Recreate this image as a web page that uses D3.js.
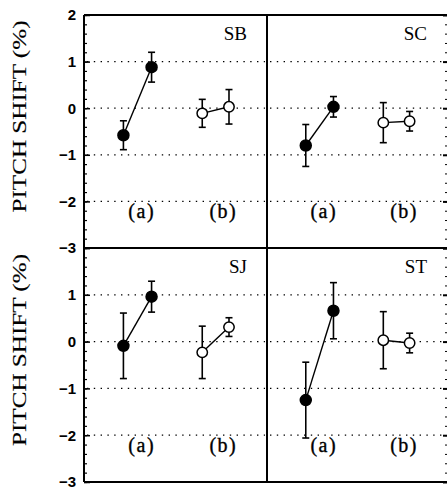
<!DOCTYPE html>
<html><head><meta charset="utf-8">
<script src="https://cdn.jsdelivr.net/npm/d3@7"></script>
<style>body{margin:0;background:#fff}svg{display:block}</style>
</head><body>
<script>
// Data
const subjects = ["SB", "SC", "SJ", "ST"];
const conditions = ["(a)", "(a)", "(b)", "(b)"];
const groups = ["a", "a", "b", "b"];
const xPos = [1, 2, 3.8, 4.75];
const labelPos = [1.65, 4.55];
const labelText = ["(a)", "(b)"];
const means = {
  SB: [-0.58, 0.88, -0.11, 0.03],
  SC: [-0.80, 0.03, -0.31, -0.28],
  SJ: [-0.09, 0.96, -0.23, 0.31],
  ST: [-1.25, 0.66, 0.03, -0.03]
};
const errs = {
  SB: [0.31, 0.32, 0.30, 0.37],
  SC: [0.45, 0.22, 0.43, 0.21],
  SJ: [0.70, 0.33, 0.56, 0.20],
  ST: [0.81, 0.60, 0.61, 0.21]
};
const yTicks = [-3, -2, -1, 0, 1, 2];
const gridVals = [-2, -1, 0, 1];
const yLabel = "PITCH SHIFT (%)";

(function () {
const W = 448, H = 492;
const pLeft = 84, pMid = 267, pRight = 447, pTop = 15, pMidY = 248, pBottom = 482;
const svg = d3.select("body").append("svg").attr("width", W).attr("height", H);

const panels = [
  {s: "SB", x0: pLeft, x1: pMid, y0: pTop, y1: pMidY, col: 0, row: 0},
  {s: "SC", x0: pMid, x1: pRight, y0: pTop, y1: pMidY, col: 1, row: 0},
  {s: "SJ", x0: pLeft, x1: pMid, y0: pMidY, y1: pBottom, col: 0, row: 1},
  {s: "ST", x0: pMid, x1: pRight, y0: pMidY, y1: pBottom, col: 1, row: 1}
];

panels.forEach(p => {
  const g = svg.append("g");
  const x = d3.scaleLinear().domain([-0.4, 6.1]).range([p.x0, p.x1]);
  const y = d3.scaleLinear().domain([-3, 2]).range([p.y1, p.y0]);
  g.selectAll("line.grid").data(gridVals).enter().append("line")
    .attr("x1", p.x0 + 3).attr("x2", p.x1 - 2)
    .attr("y1", d => y(d)).attr("y2", d => y(d))
    .attr("stroke", "#000").attr("stroke-width", 1.3)
    .attr("stroke-dasharray", "1.4,5.4");
  if (p.col === 0) {
    const ax = d3.axisRight(y).tickValues(d3.range(-3, 2.01, 0.2)).tickSize(3).tickFormat("");
    const axG = g.append("g").attr("transform", `translate(${p.x0},0)`).call(ax);
    axG.select(".domain").remove();
    axG.selectAll("line").attr("stroke-width", 1.2);
    const axM = d3.axisRight(y).tickValues(yTicks).tickSize(6).tickFormat("");
    const axMG = g.append("g").attr("transform", `translate(${p.x0},0)`).call(axM);
    axMG.select(".domain").remove();
    axMG.selectAll("line").attr("stroke-width", 1.5);
    const lbls = p.row === 0 ? yTicks : yTicks.filter(d => d !== 2);
    g.selectAll("text.tl").data(lbls).enter().append("text")
      .attr("x", p.x0 - 8).attr("y", d => y(d)).attr("dy", "0.36em")
      .attr("text-anchor", "end")
      .style("font-family", "'Liberation Sans', Arial, sans-serif")
      .style("font-weight", "bold").style("font-size", "15px")
      .text(d => d < 0 ? "\u2212" + Math.abs(d) : d);
    const cy = (p.y0 + p.y1) / 2 - 15;
    g.append("text")
      .attr("transform", `translate(${26},${cy}) rotate(-90)`)
      .attr("text-anchor", "middle")
      .attr("textLength", 192).attr("lengthAdjust", "spacingAndGlyphs")
      .attr("stroke", "#000").attr("stroke-width", 0.15)
      .style("font-family", "'Liberation Serif', 'Times New Roman', serif")
      .style("font-size", "19px")
      .text(yLabel);
  } else {
    const ax = d3.axisLeft(y).tickValues(d3.range(-3, 2.01, 0.2)).tickSize(2).tickFormat("");
    const axG = g.append("g").attr("transform", `translate(${p.x1},0)`).call(ax);
    axG.select(".domain").remove();
    axG.selectAll("line").attr("stroke-width", 1);
    const axM = d3.axisLeft(y).tickValues(yTicks).tickSize(4).tickFormat("");
    const axMG = g.append("g").attr("transform", `translate(${p.x1},0)`).call(axM);
    axMG.select(".domain").remove();
    axMG.selectAll("line").attr("stroke-width", 2);
  }
  g.append("text").attr("x", p.x1 - 20).attr("y", p.y0 + 25)
    .attr("text-anchor", "end")
    .style("font-family", "'Liberation Serif', 'Times New Roman', serif")
    .style("font-size", "19px").text(p.s);
  g.selectAll("text.cl").data(labelPos).enter().append("text")
    .attr("x", d => x(d)).attr("y", y(-2.2)).attr("dy", "0.36em")
    .attr("text-anchor", "middle")
    .attr("stroke", "#000").attr("stroke-width", 0.35)
    .style("font-family", "'Liberation Serif', serif")
    .style("font-size", "20px")
    .style("letter-spacing", "1.5px")
    .text((d, i) => labelText[i]);
  const m = means[p.s], e = errs[p.s];
  const pts = xPos.map((xv, i) => ({x: xv, y: m[i], e: e[i], g: groups[i]}));
  ["a", "b"].forEach(gr => {
    const ps = pts.filter(d => d.g === gr);
    g.append("path").datum(ps)
      .attr("d", d3.line().x(d => x(d.x)).y(d => y(d.y)))
      .attr("fill", "none").attr("stroke", "#000").attr("stroke-width", 1.4);
  });
  pts.forEach(d => {
    const cx = x(d.x);
    g.append("line").attr("x1", cx).attr("x2", cx)
      .attr("y1", y(d.y - d.e)).attr("y2", y(d.y + d.e))
      .attr("stroke", "#000").attr("stroke-width", 1.6);
    [d.y - d.e, d.y + d.e].forEach(v => {
      g.append("line").attr("x1", cx - 3.5).attr("x2", cx + 3.5)
        .attr("y1", y(v)).attr("y2", y(v))
        .attr("stroke", "#000").attr("stroke-width", 1.6);
    });
  });
  g.selectAll("circle").data(pts).enter().append("circle")
    .attr("cx", d => x(d.x)).attr("cy", d => y(d.y))
    .attr("r", d => d.g === "a" ? 5.5 : 5.2)
    .attr("fill", d => d.g === "a" ? "#000" : "#fff")
    .attr("stroke", "#000").attr("stroke-width", 1.5);
});

const frame = svg.append("g").attr("stroke", "#000").attr("fill", "none");
frame.append("line").attr("x1", pLeft).attr("x2", pRight).attr("y1", pTop).attr("y2", pTop).attr("stroke-width", 2);
frame.append("line").attr("x1", pLeft).attr("x2", pRight).attr("y1", pMidY).attr("y2", pMidY).attr("stroke-width", 2);
frame.append("line").attr("x1", pLeft).attr("x2", pRight).attr("y1", pBottom).attr("y2", pBottom).attr("stroke-width", 2);
frame.append("line").attr("x1", pLeft).attr("x2", pLeft).attr("y1", pTop).attr("y2", pBottom).attr("stroke-width", 2);
frame.append("line").attr("x1", pMid).attr("x2", pMid).attr("y1", pTop).attr("y2", pBottom).attr("stroke-width", 2);
})();
</script>
</body></html>
